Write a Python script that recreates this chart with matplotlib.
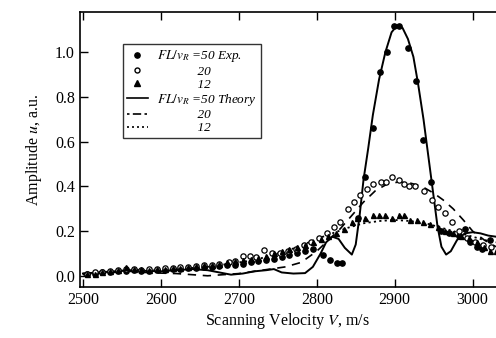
import numpy as np
import matplotlib.pyplot as plt
from matplotlib.lines import Line2D

plt.rcParams['font.family'] = ['Liberation Serif', 'DejaVu Serif']
plt.rcParams['mathtext.fontset'] = 'stix'

# Experimental data, FL/v_R = 50 (filled circles)
v_exp50 = [2505, 2515, 2525, 2535, 2545, 2555, 2565, 2575, 2585, 2595, 2605, 2615, 2625,
           2635, 2645, 2655, 2665, 2675, 2685, 2695, 2705, 2715, 2725, 2735, 2745, 2755,
           2765, 2775, 2785, 2795, 2808, 2817, 2826, 2833, 2853, 2862, 2872, 2881, 2890,
           2899, 2905, 2917, 2927, 2936, 2947, 2960, 2970, 2983, 2990, 2996, 3006, 3012, 3022]
u_exp50 = [0.01, 0.01, 0.015, 0.015, 0.02, 0.02, 0.025, 0.02, 0.02, 0.025, 0.025, 0.03, 0.03,
           0.035, 0.035, 0.04, 0.04, 0.045, 0.05, 0.05, 0.055, 0.06, 0.065, 0.07, 0.075, 0.085,
           0.095, 0.1, 0.11, 0.12, 0.094, 0.072, 0.058, 0.058, 0.26, 0.44, 0.66, 0.91, 1.0,
           1.12, 1.12, 1.02, 0.87, 0.61, 0.42, 0.2, 0.19, 0.18, 0.21, 0.15, 0.13, 0.12, 0.16]

# Experimental data, FL/v_R = 20 (open circles)
v_exp20 = [2505, 2515, 2525, 2535, 2545, 2555, 2565, 2575, 2585, 2595, 2605, 2615, 2625,
           2635, 2645, 2655, 2665, 2675, 2687, 2695, 2705, 2714, 2722, 2732, 2742, 2753,
           2763, 2773, 2783, 2793, 2803, 2813, 2822, 2830, 2840, 2848, 2856, 2864, 2872,
           2882, 2889, 2897, 2905, 2912, 2918, 2926, 2937, 2948, 2956, 2965, 2974, 2983,
           2993, 3003, 3013, 3023]
u_exp20 = [0.01, 0.015, 0.015, 0.02, 0.025, 0.03, 0.03, 0.025, 0.03, 0.03, 0.035, 0.035, 0.04,
           0.04, 0.045, 0.05, 0.05, 0.055, 0.063, 0.067, 0.09, 0.09, 0.085, 0.117, 0.1, 0.1,
           0.11, 0.12, 0.14, 0.15, 0.17, 0.19, 0.22, 0.24, 0.30, 0.33, 0.36, 0.39, 0.41,
           0.42, 0.42, 0.44, 0.43, 0.41, 0.40, 0.40, 0.38, 0.34, 0.31, 0.28, 0.24, 0.20,
           0.17, 0.15, 0.14, 0.13]

# Experimental data, FL/v_R = 12 (triangles)
v_exp12 = [2505, 2515, 2525, 2535, 2545, 2555, 2565, 2575, 2585, 2595, 2605, 2615, 2625,
           2635, 2645, 2655, 2665, 2675, 2685, 2695, 2705, 2715, 2725, 2735, 2745, 2755,
           2765, 2775, 2785, 2795, 2805, 2815, 2825, 2835, 2845, 2852, 2862, 2872, 2880,
           2888, 2896, 2905, 2912, 2920, 2928, 2936, 2945, 2955, 2965, 2975, 2985, 2995,
           3005, 3015, 3022, 3030]
u_exp12 = [0.01, 0.01, 0.015, 0.02, 0.025, 0.04, 0.03, 0.03, 0.025, 0.03, 0.03, 0.035, 0.035,
           0.04, 0.045, 0.05, 0.05, 0.055, 0.06, 0.065, 0.07, 0.075, 0.08, 0.09, 0.1, 0.11,
           0.12, 0.13, 0.14, 0.15, 0.165, 0.18, 0.19, 0.21, 0.24, 0.26, 0.26, 0.27, 0.27,
           0.27, 0.26, 0.27, 0.27, 0.25, 0.25, 0.24, 0.23, 0.22, 0.2, 0.19, 0.18, 0.17,
           0.15, 0.13, 0.11, 0.11]

# Theory, FL/v_R = 50 (solid)
v_th50 = [2500, 2520, 2540, 2560, 2580, 2600, 2620, 2640, 2660, 2675, 2690, 2705, 2720,
          2735, 2745, 2755, 2770, 2785, 2795, 2805, 2812, 2820, 2828, 2836, 2845, 2850,
          2855, 2860, 2866, 2872, 2880, 2888, 2896, 2903, 2910, 2917, 2924, 2930, 2937,
          2943, 2949, 2955, 2960, 2966, 2972, 2980, 2990, 3000, 3010, 3020, 3030]
u_th50 = [0.01, 0.015, 0.02, 0.025, 0.022, 0.02, 0.025, 0.03, 0.025, 0.015, 0.005, 0.01, 0.02,
          0.025, 0.03, 0.015, 0.01, 0.012, 0.04, 0.1, 0.15, 0.175, 0.165, 0.125, 0.095, 0.14,
          0.27, 0.43, 0.57, 0.72, 0.88, 1.0, 1.09, 1.12, 1.11, 1.06, 0.98, 0.86, 0.70,
          0.54, 0.38, 0.22, 0.13, 0.095, 0.11, 0.16, 0.19, 0.195, 0.19, 0.18, 0.175]

# Theory, FL/v_R = 20 (dashed)
v_th20 = [2500, 2520, 2540, 2560, 2580, 2600, 2620, 2640, 2660, 2680, 2700, 2720, 2740,
          2760, 2780, 2800, 2815, 2830, 2845, 2860, 2875, 2890, 2905, 2920, 2935, 2950,
          2962, 2975, 2988, 3000, 3015, 3030]
u_th20 = [0.005, 0.01, 0.015, 0.02, 0.015, 0.012, 0.01, 0.005, 0.0, 0.005, 0.01, 0.02, 0.03,
          0.04, 0.06, 0.11, 0.16, 0.21, 0.27, 0.33, 0.38, 0.41, 0.42, 0.415, 0.40, 0.37,
          0.34, 0.30, 0.25, 0.20, 0.16, 0.13]

# Theory, FL/v_R = 12 (dotted)
v_th12 = [2500, 2520, 2540, 2560, 2580, 2600, 2620, 2640, 2660, 2680, 2700, 2720, 2740,
          2760, 2780, 2800, 2820, 2840, 2860, 2880, 2900, 2920, 2940, 2960, 2980, 3000,
          3015, 3030]
u_th12 = [0.01, 0.015, 0.02, 0.025, 0.025, 0.025, 0.03, 0.035, 0.04, 0.05, 0.06, 0.07, 0.09,
          0.11, 0.135, 0.165, 0.19, 0.215, 0.235, 0.245, 0.25, 0.245, 0.235, 0.215, 0.195, 0.175,
          0.16, 0.15]

fig = plt.figure(figsize=(4.96, 3.38), dpi=100)
ax = fig.add_axes([0.161, 0.151, 0.839, 0.813])

ax.plot(v_th50, u_th50, color='black', lw=1.4)
ax.plot(v_th20, u_th20, color='black', lw=1.2, dashes=(5, 4))
ax.plot(v_th12, u_th12, color='black', lw=1.3, dashes=(1.2, 1.8))
ax.plot(v_exp50, u_exp50, 'o', color='black', ms=3.8, ls='none')
ax.plot(v_exp20, u_exp20, 'o', mfc='white', mec='black', mew=0.9, ms=3.8, ls='none')
ax.plot(v_exp12, u_exp12, '^', color='black', ms=3.6, ls='none')

ax.set_xlim(2496, 3030)
ax.set_ylim(-0.05, 1.18)
ax.set_xticks([2500, 2600, 2700, 2800, 2900, 3000])
ax.set_yticks([0.0, 0.2, 0.4, 0.6, 0.8, 1.0])
ax.set_yticklabels(['0.0', '0.2', '0.4', '0.6', '0.8', '1.0'])
ax.tick_params(direction='in', top=True, right=False, length=6, width=1, labelsize=11.5)
ax.spines['right'].set_visible(False)
for s in ['left', 'top', 'bottom']:
    ax.spines[s].set_linewidth(1.2)

ax.set_xlabel('Scanning Velocity $V$, m/s', fontsize=11.5, labelpad=2)
ax.set_ylabel('Amplitude $u$, a.u.', fontsize=11.5, labelpad=8)

handles = [
    Line2D([], [], marker='o', color='black', ls='none', ms=3.8),
    Line2D([], [], marker='o', mfc='white', mec='black', ls='none', ms=3.6),
    Line2D([], [], marker='^', color='black', ls='none', ms=3.8),
    Line2D([], [], color='black', lw=1.2),
    Line2D([], [], color='black', lw=1.2, dashes=(1.5, 2, 5, 2)),
    Line2D([], [], color='black', lw=1.2, dashes=(1.2, 1.8)),
]
labels = [r'$FL/v_R$ =50 Exp.', '            20', '            12',
          r'$FL/v_R$ =50 Theory', '            20', '            12']
leg = ax.legend(handles, labels, loc='upper left', bbox_to_anchor=(0.103, 0.883),
                frameon=True, fancybox=False, edgecolor='black', handlelength=1.6,
                handletextpad=0.7, labelspacing=0.08, borderpad=0.3, borderaxespad=0,
                prop={'family': 'Liberation Serif', 'style': 'italic', 'size': 9.5})
leg.get_frame().set_linewidth(1.0)

fig.savefig('out.png', dpi=100)
